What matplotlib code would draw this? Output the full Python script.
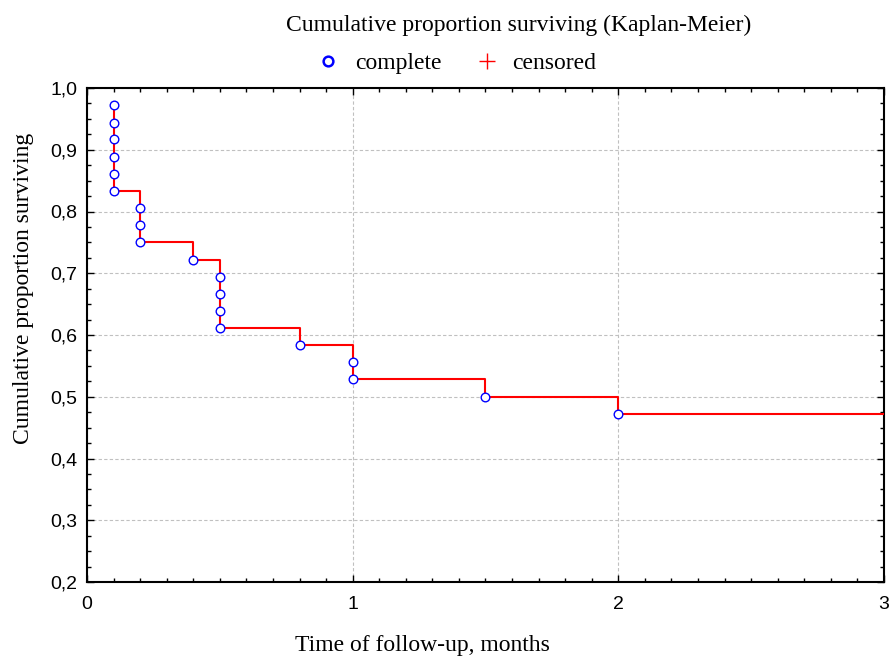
import numpy as np
import matplotlib.pyplot as plt
from matplotlib.ticker import MultipleLocator, FuncFormatter
from matplotlib.lines import Line2D

# event times (months) and Kaplan-Meier survival at each complete event
event_t = [0.1, 0.1, 0.1, 0.1, 0.1, 0.1, 0.2, 0.2, 0.2, 0.4,
           0.5, 0.5, 0.5, 0.5, 0.8, 1.0, 1.0, 1.5, 2.0]
event_s = [0.972, 0.944, 0.917, 0.889, 0.861, 0.833, 0.806, 0.778, 0.750, 0.722,
           0.694, 0.667, 0.639, 0.611, 0.583, 0.556, 0.528, 0.500, 0.472]
end_t = 3.0

SERIF = ['Liberation Serif', 'DejaVu Serif']
SANS = ['Liberation Sans', 'DejaVu Sans']
W, H = 889, 659

def fx(px):
    return px / W

def fy(py):
    return 1 - py / H

fig = plt.figure(figsize=(8.89, 6.59), dpi=100)
ax = fig.add_axes([fx(87), fy(582), (884-87)/W, (582-88)/H])

ax.grid(True, which='major', color='#c0c0c0', linestyle=(0, (3, 2)), linewidth=0.8)
ax.set_axisbelow(True)

step_x = event_t + [end_t]
step_y = event_s + [event_s[-1]]
ax.step(step_x, step_y, where='post', color='red', linewidth=1.5, zorder=3)
ax.plot(event_t, event_s, 'o', markersize=6.2, markerfacecolor='white',
        markeredgecolor='blue', markeredgewidth=1.0, linestyle='none', zorder=4)

ax.set_xlim(0, 3)
ax.set_ylim(0.2, 1.0)
ax.xaxis.set_major_locator(MultipleLocator(1))
ax.xaxis.set_minor_locator(MultipleLocator(0.1))
ax.yaxis.set_major_locator(MultipleLocator(0.1))
ax.yaxis.set_minor_locator(MultipleLocator(0.025))
ax.xaxis.set_major_formatter(FuncFormatter(lambda v, p: '%d' % round(v)))
ax.yaxis.set_major_formatter(FuncFormatter(lambda v, p: ('%.1f' % v).replace('.', ',')))
ax.tick_params(which='both', direction='in', top=True, right=True, width=1.0)
ax.tick_params(which='major', length=5, labelsize=14)
ax.tick_params(axis='x', which='major', pad=10)
ax.tick_params(axis='y', which='major', pad=7)
ax.tick_params(which='minor', length=3)
for lab in ax.get_xticklabels() + ax.get_yticklabels():
    lab.set_family(SANS)
for sp in ax.spines.values():
    sp.set_linewidth(1.5)

# title and legend
fig.text(fx(519), fy(31), 'Cumulative proportion surviving (Kaplan-Meier)',
         ha='center', va='baseline', fontsize=17, family=SERIF)
fig.add_artist(Line2D([fx(328)], [fy(61)], transform=fig.transFigure, marker='o',
                      linestyle='none', markerfacecolor='white', markeredgecolor='blue',
                      markeredgewidth=1.8, markersize=7))
fig.text(fx(355), fy(69), 'complete', ha='left', va='baseline', fontsize=17, family=SERIF)
fig.add_artist(Line2D([fx(487)], [fy(61)], transform=fig.transFigure, marker='+',
                      linestyle='none', color='red', markersize=11, markeredgewidth=1.0))
fig.text(fx(512), fy(69), 'censored', ha='left', va='baseline', fontsize=17, family=SERIF)

fig.text(fx(422), fy(651), 'Time of follow-up, months', ha='center', va='baseline',
         fontsize=17, family=SERIF)
fig.text(fx(24), fy(288), 'Cumulative proportion surviving', ha='center',
         va='center', rotation=90, fontsize=17, family=SERIF)

fig.savefig('out.png', dpi=100)
